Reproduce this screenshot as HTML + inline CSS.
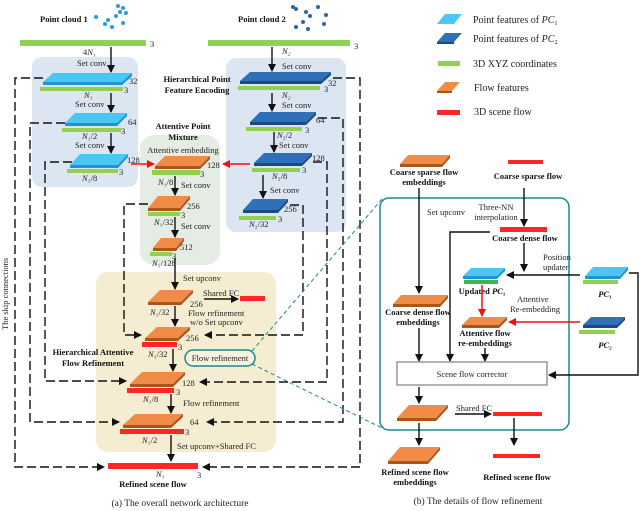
<!DOCTYPE html>
<html><head><meta charset="utf-8"><style>
html,body{margin:0;padding:0;background:#fff}
svg{display:block}
text{font-family:"Liberation Serif",serif;font-size:8.5px;fill:#222}
.b{font-weight:bold;fill:#111}
.lg{font-size:10px}
.cap{font-size:9.5px}
.cy{fill:#4cc6f5}.cye{fill:#1f95cf}
.db{fill:#2f70b8}.dbe{fill:#1a4a80}
.or{fill:#f08c48}.ore{fill:#a8561c}
.gr{fill:#92d050}.rd{fill:#ff2626}
.d{stroke:#111;stroke-width:1.4;fill:none;stroke-dasharray:9 4}
.s{stroke:#111;stroke-width:1.4;fill:none}
</style></head><body>
<svg width="640" height="511" viewBox="0 0 640 511" xmlns="http://www.w3.org/2000/svg">
<defs>
<marker id="a" markerWidth="8" markerHeight="8" refX="7" refY="4" orient="auto" markerUnits="userSpaceOnUse"><path d="M0,0 L8,4 L0,8 z" fill="#111"/></marker>
<marker id="r" markerWidth="8" markerHeight="8" refX="7" refY="4" orient="auto" markerUnits="userSpaceOnUse"><path d="M0,0 L8,4 L0,8 z" fill="#f01010"/></marker>
</defs>
<rect x="32" y="57" width="106" height="130" rx="10" fill="#dce6f2"/>
<rect x="226" y="58" width="120" height="174" rx="10" fill="#dce6f2"/>
<rect x="140" y="135" width="80" height="130" rx="14" fill="#e5ece4"/>
<rect x="96" y="272" width="180" height="180" rx="12" fill="#f5edd2"/>

<path class="d" d="M43,78 H15 V467 H104" marker-end="url(#a)"/>
<path class="d" d="M65,123 H30 V422 H119" marker-end="url(#a)"/>
<path class="d" d="M72,162 H45 V381 H126" marker-end="url(#a)"/>
<path class="d" d="M148,204 H124 V335 H141" marker-end="url(#a)"/>
<path class="d" d="M333,78 H360 V467 H203" marker-end="url(#a)"/>
<path class="d" d="M318,118 H343 V422 H207" marker-end="url(#a)"/>
<path class="d" d="M313,162 H327 V382 H200" marker-end="url(#a)"/>
<path class="d" d="M290,205 H303 V335 H205" marker-end="url(#a)"/>
<text transform="translate(8,330) rotate(-90)">The skip connections</text>

<text class="b" x="40" y="22">Point cloud 1</text>
<text class="b" x="238" y="22">Point cloud 2</text>
<g fill="#2a9be0">
<circle cx="118" cy="6" r="2"/><circle cx="123" cy="8" r="2"/><circle cx="96" cy="17" r="2"/><circle cx="108" cy="20" r="2"/><circle cx="116" cy="16" r="2"/><circle cx="120" cy="12" r="2"/><circle cx="105" cy="24" r="2"/><circle cx="112" cy="27" r="2"/><circle cx="123" cy="23" r="2"/><circle cx="126" cy="13" r="2"/>
</g>
<g fill="#2e63b0">
<circle cx="293" cy="7" r="2"/><circle cx="296" cy="9" r="2"/><circle cx="306" cy="12" r="2"/><circle cx="318" cy="7" r="2"/><circle cx="310" cy="16" r="2"/><circle cx="326" cy="15" r="2"/><circle cx="303" cy="22" r="2"/><circle cx="296" cy="27" r="2"/><circle cx="308" cy="29" r="2"/><circle cx="324" cy="24" r="2"/>
</g>
<rect class="gr" x="20" y="40" width="126" height="6"/>
<rect class="gr" x="208" y="40" width="142" height="6"/>
<text x="150" y="47">3</text><text x="354" y="49">3</text>

<text x="83" y="55">4<tspan font-style="italic">N</tspan>₁</text>
<text x="77" y="66">Set conv</text>
<line class="s" x1="111" y1="47" x2="111" y2="72" marker-end="url(#a)"/>
<polygon class="cy" points="53,73 132,73 122,82 43,82"/><polygon class="cye" points="43,82 122,82 122,85 43,85"/><polygon class="cye" points="122,82 132,73 132,76 122,85"/>
<rect class="gr" x="40" y="87" width="83" height="4"/>
<text x="129" y="84">32</text><text x="124" y="93">3</text>
<text x="84" y="98" font-style="italic">N₁</text><text x="75" y="107">Set conv</text>
<line class="s" x1="111" y1="93" x2="111" y2="112" marker-end="url(#a)"/>
<polygon class="cy" points="75,113 127,113 117,123 65,123"/><polygon class="cye" points="65,123 117,123 117,126 65,126"/><polygon class="cye" points="117,123 127,113 127,116 117,126"/>
<rect class="gr" x="62" y="128" width="59" height="4"/>
<text x="128" y="125">64</text><text x="121" y="134">3</text>
<text x="82" y="139"><tspan font-style="italic">N</tspan>₁/2</text><text x="75" y="148">Set conv</text>
<line class="s" x1="111" y1="133" x2="111" y2="153" marker-end="url(#a)"/>
<polygon class="cy" points="80,154 128,154 118,165 70,165"/><polygon class="cye" points="70,165 118,165 118,168 70,168"/><polygon class="cye" points="118,165 128,154 128,157 118,168"/>
<rect class="gr" x="67" y="169" width="51" height="4"/>
<text x="127" y="163">128</text><text x="119" y="175">3</text>
<text x="82" y="181"><tspan font-style="italic">N</tspan>₁/8</text>

<text class="b" x="197" y="82" text-anchor="middle">Hierarchical Point</text>
<text class="b" x="197" y="93" text-anchor="middle">Feature Encoding</text>
<text x="282" y="54" font-style="italic">N₂</text>
<text x="282" y="69">Set conv</text>
<line class="s" x1="272" y1="47" x2="272" y2="71" marker-end="url(#a)"/>
<polygon class="db" points="250,72 331,72 321,81 240,81"/><polygon class="dbe" points="240,81 321,81 321,84 240,84"/><polygon class="dbe" points="321,81 331,72 331,75 321,84"/>
<rect class="gr" x="238" y="86" width="82" height="4"/>
<text x="328" y="86">32</text><text x="324" y="92">3</text>
<text x="282" y="98" font-style="italic">N₂</text><text x="282" y="108">Set conv</text>
<line class="s" x1="272" y1="93" x2="272" y2="111" marker-end="url(#a)"/>
<polygon class="db" points="260,112 316,112 306,122 250,122"/><polygon class="dbe" points="250,122 306,122 306,125 250,125"/><polygon class="dbe" points="306,122 316,112 316,115 306,125"/>
<rect class="gr" x="246" y="127" width="56" height="4"/>
<text x="316" y="123">64</text><text x="305" y="133">3</text>
<text x="277" y="138"><tspan font-style="italic">N</tspan>₂/2</text><text x="279" y="148">Set conv</text>
<line class="s" x1="274" y1="132" x2="274" y2="152" marker-end="url(#a)"/>
<polygon class="db" points="264,153 312,153 302,163 254,163"/><polygon class="dbe" points="254,163 302,163 302,166 254,166"/><polygon class="dbe" points="302,163 312,153 312,156 302,166"/>
<rect class="gr" x="252" y="168" width="48" height="4"/>
<text x="312" y="161">128</text><text x="302" y="173">3</text>
<text x="272" y="179"><tspan font-style="italic">N</tspan>₂/8</text><text x="270" y="193">Set conv</text>
<line class="s" x1="263" y1="175" x2="263" y2="198" marker-end="url(#a)"/>
<polygon class="db" points="253,199 288,199 278,210 243,210"/><polygon class="dbe" points="243,210 278,210 278,213 243,213"/><polygon class="dbe" points="278,210 288,199 288,202 278,213"/>
<rect class="gr" x="239" y="216" width="37" height="4"/>
<text x="284" y="212">256</text><text x="278" y="222">3</text>
<text x="249" y="227"><tspan font-style="italic">N</tspan>₂/32</text>

<text class="b" x="183" y="129" text-anchor="middle" font-size="9">Attentive Point</text>
<text class="b" x="183" y="140" text-anchor="middle" font-size="9">Mixture</text>
<text x="183" y="153" text-anchor="middle">Attentive embedding</text>
<polygon class="or" points="165,156 210,156 200,166 155,166"/><polygon class="ore" points="155,166 200,166 200,169 155,169"/><polygon class="ore" points="200,166 210,156 210,159 200,169"/>
<rect class="gr" x="152" y="170" width="48" height="5"/>
<text x="207" y="168">128</text><text x="200" y="177">3</text>
<line x1="131" y1="164" x2="154" y2="164" stroke="#f01010" stroke-width="1.6" marker-end="url(#r)"/>
<line x1="250" y1="164" x2="223" y2="164" stroke="#f01010" stroke-width="1.6" marker-end="url(#r)"/>
<text x="158" y="185"><tspan font-style="italic">N</tspan>₁/8</text><text x="181" y="188">Set conv</text>
<line class="s" x1="175" y1="176" x2="175" y2="195" marker-end="url(#a)"/>
<polygon class="or" points="158,196 190,196 180,208 148,208"/><polygon class="ore" points="148,208 180,208 180,211 148,211"/><polygon class="ore" points="180,208 190,196 190,199 180,211"/>
<rect class="gr" x="148" y="212" width="32" height="4"/>
<text x="187" y="209">256</text><text x="181" y="218">3</text>
<text x="154" y="225"><tspan font-style="italic">N</tspan>₁/32</text><text x="181" y="229">Set conv</text>
<line class="s" x1="175" y1="217" x2="175" y2="237" marker-end="url(#a)"/>
<polygon class="or" points="161,238 184,238 176,248 153,248"/><polygon class="ore" points="153,248 176,248 176,251 153,251"/><polygon class="ore" points="176,248 184,238 184,241 176,251"/>
<rect class="gr" x="150" y="252" width="22" height="4"/>
<text x="180" y="250">512</text><text x="172" y="259">3</text>
<text x="152" y="266"><tspan font-style="italic">N</tspan>₁/128</text>

<text x="183" y="281">Set upconv</text>
<line class="s" x1="175" y1="258" x2="175" y2="289" marker-end="url(#a)"/>
<polygon class="or" points="160,290 193,290 181,302 148,302"/><polygon class="ore" points="148,302 181,302 181,305 148,305"/><polygon class="ore" points="181,302 193,290 193,293 181,305"/>
<text x="190" y="307">256</text><text x="150" y="315"><tspan font-style="italic">N</tspan>₁/32</text>
<text x="203" y="296">Shared FC</text>
<line class="s" x1="204" y1="299" x2="238" y2="299" marker-end="url(#a)"/>
<rect class="rd" x="240" y="296" width="25" height="5"/>
<text x="188" y="316">Flow refinement</text><text x="190" y="325">w/o Set upconv</text>
<line class="s" x1="175" y1="306" x2="175" y2="326" marker-end="url(#a)"/>
<polygon class="or" points="157,327 190,327 178,338 145,338"/><polygon class="ore" points="145,338 178,338 178,341 145,341"/><polygon class="ore" points="178,338 190,327 190,330 178,341"/>
<rect class="rd" x="142" y="342" width="35" height="5"/>
<text x="186" y="341">256</text><text x="178" y="350">3</text>
<text x="148" y="357"><tspan font-style="italic">N</tspan>₁/32</text>
<text class="b" x="93" y="355" text-anchor="middle" font-size="9">Hierarchical Attentive</text>
<text class="b" x="93" y="366" text-anchor="middle" font-size="9">Flow Refinement</text>
<rect x="185" y="350" width="70" height="16" rx="8" fill="#fff" fill-opacity="0.3" stroke="#1a8a8a" stroke-width="1.5"/>
<text x="220" y="361" text-anchor="middle">Flow refinement</text>
<line class="s" x1="173" y1="349" x2="173" y2="371" marker-end="url(#a)"/>
<polygon class="or" points="142,372 185,372 173,384 130,384"/><polygon class="ore" points="130,384 173,384 173,387 130,387"/><polygon class="ore" points="173,384 185,372 185,375 173,387"/>
<rect class="rd" x="127" y="388" width="47" height="5"/>
<text x="182" y="386">128</text><text x="176" y="395">3</text>
<text x="143" y="402"><tspan font-style="italic">N</tspan>₁/8</text>
<text x="183" y="406">Flow refinement</text>
<line class="s" x1="171" y1="394" x2="171" y2="413" marker-end="url(#a)"/>
<polygon class="or" points="135,414 183,414 171,425 123,425"/><polygon class="ore" points="123,425 171,425 171,428 123,428"/><polygon class="ore" points="171,425 183,414 183,417 171,428"/>
<rect class="rd" x="120" y="429" width="64" height="5"/>
<text x="190" y="425">64</text><text x="185" y="435">3</text>
<text x="142" y="443"><tspan font-style="italic">N</tspan>₁/2</text>
<text x="177" y="449">Set upconv+Shared FC</text>
<line class="s" x1="171" y1="435" x2="171" y2="461" marker-end="url(#a)"/>
<rect class="rd" x="108" y="463" width="90" height="6"/>
<text x="156" y="477" font-style="italic">N<tspan font-style="normal">₁</tspan></text><text x="197" y="478">3</text>
<text class="b" x="153" y="487" text-anchor="middle">Refined scene flow</text>
<text class="cap" x="180" y="506" text-anchor="middle">(a)   The overall network architecture</text>

<line x1="252" y1="351" x2="382" y2="199" stroke="#1a8a8a" stroke-width="1" stroke-dasharray="4 3"/>
<line x1="252" y1="364" x2="382" y2="428" stroke="#1a8a8a" stroke-width="1" stroke-dasharray="4 3"/>

<polygon class="cy" points="445,14 462,14 454,24 437,24"/>
<polygon class="db" points="445,33 462,33 454,42 437,42"/><polygon class="dbe" points="437,42 454,42 454,44 437,44"/>
<rect class="gr" x="438" y="61" width="22" height="5"/>
<polygon class="or" points="445,82 460,82 452,91 437,91"/><polygon class="ore" points="437,91 452,91 452,93 437,93"/>
<rect class="rd" x="437" y="110" width="23" height="5"/>
<text class="lg" x="473" y="23">Point features of <tspan font-style="italic">PC</tspan>₁</text>
<text class="lg" x="473" y="42">Point features of <tspan font-style="italic">PC</tspan>₂</text>
<text class="lg" x="473" y="67">3D XYZ coordinates</text>
<text class="lg" x="474" y="91">Flow features</text>
<text class="lg" x="474" y="115">3D scene flow</text>

<rect x="380" y="198" width="189" height="232" rx="9" fill="none" stroke="#1a8a8a" stroke-width="1.5"/>
<polygon class="or" points="408,155 450,155 442,164 400,164"/><polygon class="ore" points="400,164 442,164 442,167 400,167"/><polygon class="ore" points="442,164 450,155 450,158 442,167"/>
<text class="b" x="424" y="175" text-anchor="middle" font-size="9">Coarse sparse flow</text>
<text class="b" x="424" y="185" text-anchor="middle" font-size="9">embeddings</text>
<rect class="rd" x="508" y="160" width="35" height="4"/>
<text class="b" x="528" y="179" text-anchor="middle" font-size="9">Coarse sparse flow</text>
<line class="s" x1="419" y1="188" x2="419" y2="293" marker-end="url(#a)"/>
<text x="427" y="215">Set upconv</text>
<text x="496" y="210" text-anchor="middle">Three-NN</text>
<text x="496" y="220" text-anchor="middle">interpolation</text>
<line class="s" x1="524" y1="188" x2="524" y2="226" marker-end="url(#a)"/>
<rect class="rd" x="500" y="227" width="47" height="5"/>
<text class="b" x="525" y="241" text-anchor="middle">Coarse dense flow</text>
<path class="s" d="M490,232 H450 V361" marker-end="url(#a)"/>
<line class="s" x1="524" y1="243" x2="524" y2="271" marker-end="url(#a)"/>
<text x="543" y="260">Position</text><text x="543" y="270">updater</text>
<polygon class="cy" points="471,268 505,268 497,276 463,276"/><polygon class="cye" points="463,276 497,276 497,279 463,279"/><polygon class="cye" points="497,276 505,268 505,271 497,279"/>
<rect x="464" y="280" width="34" height="4" fill="#3cb84a"/>
<text class="b" x="482" y="294" text-anchor="middle">Updated <tspan font-style="italic">PC</tspan>₁</text>
<line class="s" x1="580" y1="275" x2="507" y2="275" marker-end="url(#a)"/>
<polygon class="cy" points="593,267 628,267 620,276 585,276"/><polygon class="cye" points="585,276 620,276 620,279 585,279"/><polygon class="cye" points="620,276 628,267 628,270 620,279"/>
<rect class="gr" x="583" y="280" width="35" height="4"/>
<text class="b" x="605" y="297" text-anchor="middle" font-style="italic">PC<tspan font-style="normal">₁</tspan></text>
<path class="s" d="M629,273 H638 V375 H549" marker-end="url(#a)"/>
<text x="517" y="302">Attentive</text><text x="510" y="312">Re-embedding</text>
<line x1="482" y1="285" x2="482" y2="316" stroke="#f01010" stroke-width="1.5" marker-end="url(#r)"/>
<polygon class="or" points="470,317 507,317 499,325 462,325"/><polygon class="ore" points="462,325 499,325 499,328 462,328"/><polygon class="ore" points="499,325 507,317 507,320 499,328"/>
<text class="b" x="485" y="336" text-anchor="middle">Attentive flow</text>
<text class="b" x="485" y="346" text-anchor="middle">re-embeddings</text>
<line x1="580" y1="322" x2="509" y2="322" stroke="#f01010" stroke-width="1.5" marker-end="url(#r)"/>
<polygon class="db" points="591,317 625,317 617,325 583,325"/><polygon class="dbe" points="583,325 617,325 617,328 583,328"/><polygon class="dbe" points="617,325 625,317 625,320 617,328"/>
<rect class="gr" x="579" y="330" width="36" height="4"/>
<text class="b" x="605" y="348" text-anchor="middle" font-style="italic">PC<tspan font-style="normal">₂</tspan></text>
<line class="s" x1="485" y1="348" x2="485" y2="361" marker-end="url(#a)"/>
<polygon class="or" points="401,295 448,295 440,304 393,304"/><polygon class="ore" points="393,304 440,304 440,307 393,307"/><polygon class="ore" points="440,304 448,295 448,298 440,307"/>
<text class="b" x="418" y="315" text-anchor="middle">Coarse dense flow</text>
<text class="b" x="418" y="325" text-anchor="middle">embeddings</text>
<line class="s" x1="419" y1="328" x2="419" y2="361" marker-end="url(#a)"/>
<rect x="397" y="362" width="150" height="23" fill="#fff" stroke="#888" stroke-width="1.3"/>
<text x="472" y="377" text-anchor="middle">Scene flow corrector</text>
<line class="s" x1="419" y1="387" x2="419" y2="403" marker-end="url(#a)"/>
<polygon class="or" points="409,405 448,405 436,418 397,418"/><polygon class="ore" points="397,418 436,418 436,421 397,421"/><polygon class="ore" points="436,418 448,405 448,408 436,421"/>
<text x="456" y="411">Shared FC</text>
<line class="s" x1="455" y1="414" x2="491" y2="414" marker-end="url(#a)"/>
<rect class="rd" x="493" y="412" width="49" height="4"/>
<line class="s" x1="419" y1="423" x2="419" y2="445" marker-end="url(#a)"/>
<line class="s" x1="514" y1="418" x2="514" y2="445" marker-end="url(#a)"/>
<polygon class="or" points="400,447 440,447 428,461 388,461"/><polygon class="ore" points="388,461 428,461 428,464 388,464"/><polygon class="ore" points="428,461 440,447 440,450 428,464"/>
<rect class="rd" x="493" y="454" width="47" height="4"/>
<text class="b" x="415" y="475" text-anchor="middle">Refined scene flow</text>
<text class="b" x="415" y="485" text-anchor="middle">embeddings</text>
<text class="b" x="517" y="480" text-anchor="middle">Refined scene flow</text>
<text class="cap" x="478" y="504" text-anchor="middle">(b)   The details of flow refinement</text>
</svg>
</body></html>
